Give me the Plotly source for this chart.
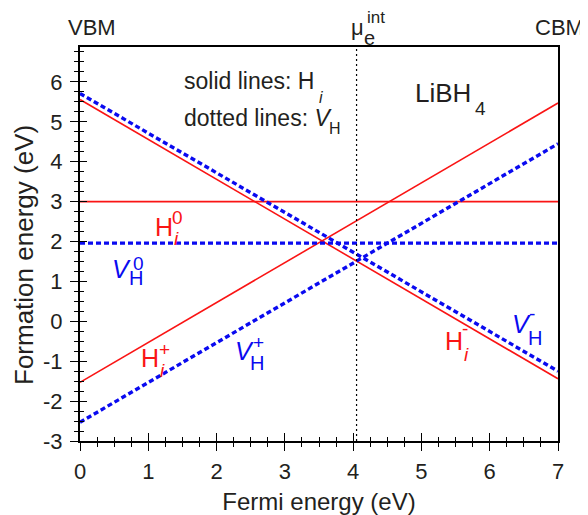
import plotly.graph_objects as go

# ---------------- data ----------------
fermi = [0, 7]                       # Fermi energy (eV), VBM -> CBM
H_plus = [-1.53, 5.47]               # H_i^+
H_zero = [3.0, 3.0]                  # H_i^0
H_minus = [5.56, -1.44]              # H_i^-
V_plus = [-2.53, 4.45]               # V_H^+
V_zero = [1.96, 1.96]                # V_H^0
V_minus = [5.71, -1.25]              # V_H^-
mu_e_int = 4.05                      # intrinsic Fermi level
x_ticks = [0, 1, 2, 3, 4, 5, 6, 7]
x_tick_labels = ["0", "1", "2", "3", "4", "5", "6", "7"]
y_ticks = [-3, -2, -1, 0, 1, 2, 3, 4, 5, 6]
y_tick_labels = ["-3", "-2", "-1", "0", "1", "2", "3", "4", "5", "6"]
x_range = [0, 7]
y_range = [-3, 6.875]

# ---------------- style ----------------
RED = "rgb(250,20,20)"
BLUE = "rgb(10,10,240)"
TXT = "#231f20"
FONT = "Liberation Sans, Arial, Helvetica, sans-serif"
OFF = 8                      # page body margin of the html page
W, H = 588 - OFF, 515 - OFF  # figure size
L, R, T, B = 80, 558, 47, 441  # plot area in page pixels


def px(x):
    return (x - L) / (R - L)


def py(y):
    return (B - y) / (B - T)


fig = go.Figure()

red_line = dict(color=RED, width=1.6)
blue_line = dict(color=BLUE, width=3.4, dash="5px,3px")

for yv in (H_plus, H_zero, H_minus):
    fig.add_trace(go.Scatter(x=fermi, y=yv, mode="lines", line=red_line,
                             hoverinfo="skip", showlegend=False))
for yv in (V_plus, V_zero, V_minus):
    fig.add_trace(go.Scatter(x=fermi, y=yv, mode="lines", line=blue_line,
                             hoverinfo="skip", showlegend=False))

# intrinsic Fermi level (drawn on the overlay axes that carry the inner ticks)
fig.add_trace(go.Scatter(x=[mu_e_int, mu_e_int], y=y_range, mode="lines",
                         line=dict(color="black", width=1.2, dash="2px,3px"),
                         xaxis="x2", yaxis="y2", hoverinfo="skip", showlegend=False))

ann = []


def txt(x, y, s, size, color=TXT, xanchor="center", angle=0):
    ann.append(dict(x=px(x), y=py(y), xref="paper", yref="paper", text=s,
                    showarrow=False, xanchor=xanchor, yanchor="middle",
                    textangle=angle,
                    font=dict(size=size, color=color, family=FONT)))


# axis title on y (placed as in the reference)
txt(24, 255, "Formation energy (eV)", 26, angle=-90)

# top labels
txt(92, 27, "VBM", 22)
txt(559, 28, "CBM", 22)
txt(357, 28, "μ", 22)
txt(369, 38, "e", 20)
txt(376, 18, "int", 17)

# legend text
txt(182, 81, "solid lines: H", 23, xanchor="left")
txt(321, 97, "<i>i</i>", 16)
txt(182, 118, "dotted lines: <i>V</i>", 23, xanchor="left")
txt(335, 128, "H", 16)

# compound label
txt(413, 92.5, "LiBH", 26, xanchor="left")
txt(480, 108.5, "4", 19)

# H_i^0
txt(163.5, 226.5, "H", 25, RED)
txt(177.5, 217.5, "0", 19, RED)
txt(176.5, 238.5, "<i>i</i>", 19, RED)
# V_H^0
txt(121, 268.5, "<i>V</i>", 25, BLUE)
txt(135.5, 277.5, "H", 20, BLUE)
txt(138.5, 263, "0", 19, BLUE)
# H_i^+
txt(150, 358, "H", 25, RED)
txt(164.5, 349, "+", 19, RED)
txt(162.5, 370, "<i>i</i>", 19, RED)
# V_H^+
txt(244, 351, "<i>V</i>", 25, BLUE)
txt(257, 362.5, "H", 20, BLUE)
txt(258.5, 342.5, "+", 19, BLUE)
# H_i^-
txt(453.5, 341, "H", 25, RED)
txt(465, 328, "-", 19, RED)
txt(466, 354.5, "<i>i</i>", 19, RED)
# V_H^-
txt(521.5, 324, "<i>V</i>", 25, BLUE)
txt(534.5, 337.5, "H", 20, BLUE)
txt(531.5, 313, "-", 19, BLUE)

axis_common = dict(showgrid=False, zeroline=False, automargin=False)

fig.update_layout(
    width=W, height=H,
    margin=dict(l=L - OFF, r=W - (R - OFF), t=T - OFF, b=H - (B - OFF), pad=0),
    paper_bgcolor="white", plot_bgcolor="white",
    font=dict(family=FONT, color=TXT, size=21),
    xaxis=dict(range=x_range, tickvals=x_ticks, ticktext=x_tick_labels,
               ticks="outside", ticklen=8, tickwidth=1.4, tickcolor="black",
               minor=dict(dtick=0.25, tick0=0, ticks="outside", ticklen=4,
                          tickwidth=1.2, tickcolor="black"),
               showline=True, linecolor="black", linewidth=2, mirror=True,
               tickfont=dict(size=22), ticklabelstandoff=2,
               title=dict(text="Fermi energy (eV)", font=dict(size=24), standoff=10),
               **axis_common),
    yaxis=dict(range=y_range, tickvals=y_ticks, ticktext=y_tick_labels,
               ticks="outside", ticklen=8, tickwidth=1.4, tickcolor="black",
               minor=dict(dtick=0.25, tick0=0, ticks="outside", ticklen=4,
                          tickwidth=1.2, tickcolor="black"),
               showline=True, linecolor="black", linewidth=2, mirror=True,
               tickfont=dict(size=22), ticklabelstandoff=3,
               **axis_common),
    xaxis2=dict(range=x_range, overlaying="x", anchor="y2", side="bottom",
                tickvals=x_ticks, showticklabels=False,
                ticks="inside", ticklen=8, tickwidth=1.4, tickcolor="black",
                minor=dict(dtick=0.25, tick0=0, ticks="inside", ticklen=4,
                           tickwidth=1.2, tickcolor="black"),
                showline=False, **axis_common),
    yaxis2=dict(range=y_range, overlaying="y", anchor="x2", side="left",
                tickvals=y_ticks, showticklabels=False,
                ticks="inside", ticklen=7, tickwidth=1.4, tickcolor="black",
                minor=dict(dtick=0.25, tick0=0, ticks="inside", ticklen=4,
                           tickwidth=1.2, tickcolor="black"),
                showline=False, **axis_common),
    annotations=ann,
)

fig.write_html("out.html")
